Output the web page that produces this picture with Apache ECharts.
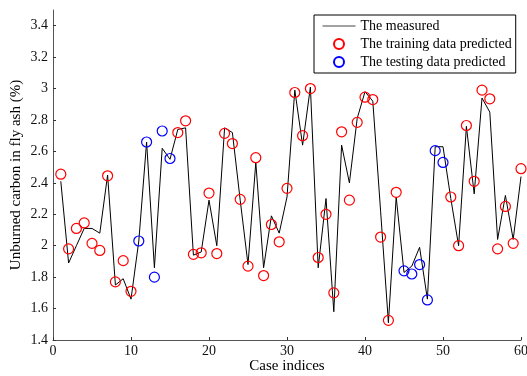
<!DOCTYPE html>
<html><head><meta charset="utf-8">
<script src="https://cdn.jsdelivr.net/npm/echarts@6/dist/echarts.min.js"></script>
<style>html,body{margin:0;padding:0;background:#fff}#c{width:527px;height:376px}</style>
</head><body><div id="c"></div>
<script>
// Case indices 1..60
const caseIndices = Array.from({length: 60}, (_, i) => i + 1);
// Measured values
const measured = [2.41,1.89,2.00,2.11,2.11,2.08,2.45,1.75,1.79,1.66,
  2.03,2.66,1.86,2.62,2.55,2.74,2.75,1.94,1.96,2.29,
  2.00,2.75,2.72,2.29,1.88,2.53,1.86,2.19,2.08,2.31,
  2.99,2.64,3.01,1.86,2.30,1.58,2.64,2.40,2.81,2.98,
  2.92,2.22,1.51,2.31,1.83,1.87,1.99,1.66,2.63,2.63,
  2.30,2.00,2.76,2.33,2.94,2.85,2.04,2.32,2.04,2.44];
// Predicted values
const predicted = [2.455,1.98,2.11,2.145,2.015,1.97,2.445,1.77,1.905,1.71,
  2.03,2.66,1.80,2.73,2.555,2.72,2.795,1.945,1.955,2.335,
  1.95,2.715,2.65,2.295,1.87,2.56,1.81,2.135,2.025,2.365,
  2.975,2.70,3.00,1.925,2.20,1.70,2.725,2.29,2.785,2.945,
  2.93,2.055,1.525,2.34,1.84,1.82,1.88,1.655,2.605,2.53,
  2.31,2.00,2.765,2.41,2.99,2.935,1.98,2.25,2.015,2.49];
// Indices of testing samples
const testingIndices = [11,12,13,14,15,45,46,47,48,49,50];
const seriesNames = ['The measured','The training data predicted','The testing data predicted'];

const lineData = caseIndices.map((x, i) => [x, measured[i]]);
const trainData = [], testData = [];
caseIndices.forEach((x, i) => {
  (testingIndices.includes(x) ? testData : trainData).push([x, predicted[i]]);
});

const font = '"Liberation Serif","Times New Roman",serif';
const chart = echarts.init(document.getElementById('c'), null, {renderer: 'canvas'});
chart.setOption({
  animation: false,
  backgroundColor: '#fff',
  grid: {left: 53, right: 6, top: 10, bottom: 36, containLabel: false, outerBoundsMode: 'none'},
  xAxis: {
    type: 'value', min: 0, max: 60, interval: 10,
    name: 'Case indices', nameLocation: 'middle', nameGap: 19, nameMoveOverlap: false,
    nameTextStyle: {fontFamily: font, fontSize: 15, color: '#000'},
    axisLine: {lineStyle: {color: '#555', width: 1}},
    axisTick: {inside: true, length: 3, lineStyle: {color: '#333'}},
    axisLabel: {fontFamily: font, fontSize: 14, color: '#111', margin: 4},
    splitLine: {show: false}
  },
  yAxis: {
    type: 'value', min: 1.4, max: 3.5, interval: 0.2,
    name: 'Unburned carbon in fly ash (%)', nameLocation: 'middle', nameGap: 29, nameMoveOverlap: false,
    nameTextStyle: {fontFamily: font, fontSize: 15, color: '#000'},
    axisLine: {show: true, lineStyle: {color: '#555', width: 1}},
    axisTick: {show: true, inside: true, length: 3, lineStyle: {color: '#333'}},
    axisLabel: {fontFamily: font, fontSize: 14, color: '#111', margin: 5, showMaxLabel: false,
      formatter: v => String(parseFloat(v.toFixed(1)))},
    splitLine: {show: false}
  },
  legend: {
    show: true, orient: 'vertical', left: 314, top: 15,
    backgroundColor: '#fff', borderColor: '#000', borderWidth: 1,
    padding: [4, 4, 4, 8], itemGap: 4, itemWidth: 33, itemHeight: 10,
    textStyle: {fontFamily: font, fontSize: 14, color: '#000'},
    data: [
      {name: seriesNames[0], itemStyle: {opacity: 0}, lineStyle: {color: '#444', width: 1}},
      {name: seriesNames[1]},
      {name: seriesNames[2]}
    ]
  },
  series: [
    {name: seriesNames[0], type: 'line', data: lineData, showSymbol: false, symbol: 'none',
      lineStyle: {color: '#000', width: 1}, itemStyle: {color: '#000'}, z: 2},
    {name: seriesNames[1], type: 'scatter', data: trainData, symbol: 'circle', symbolSize: 10,
      itemStyle: {color: 'rgba(255,255,255,0)', opacity: 1, borderColor: '#ff0000', borderWidth: 1.2}, z: 3},
    {name: seriesNames[2], type: 'scatter', data: testData, symbol: 'circle', symbolSize: 10,
      itemStyle: {color: 'rgba(255,255,255,0)', opacity: 1, borderColor: '#0000ff', borderWidth: 1.2}, z: 3}
  ]
});
</script></body></html>
